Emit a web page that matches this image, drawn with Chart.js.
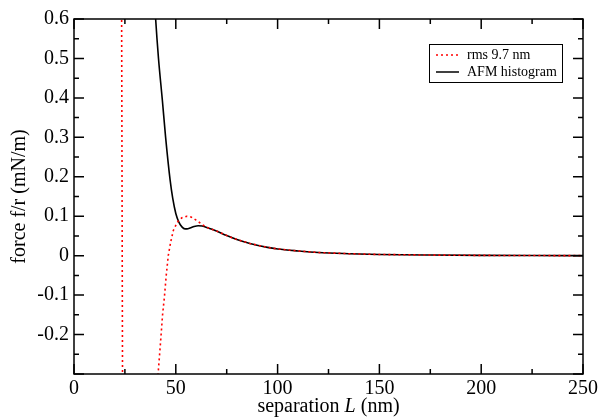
<!DOCTYPE html>
<html>
<head>
<meta charset="utf-8">
<script src="https://cdn.jsdelivr.net/npm/chart.js@4.4.1/dist/chart.umd.min.js"></script>
<style>
    html, body { margin: 0; padding: 0; background: #fff; }
    #wrap { width: 598px; height: 417px; }
</style>
</head>
<body>
<div id="wrap"><canvas id="forceChart" width="598" height="417"></canvas></div>
<script>
// separation L (nm) and force f/r (mN/m)
const afmSeparation = [38.5, 40.1, 41.5, 43.4, 45, 47.2, 48.5, 50, 51.5, 53, 54.5, 55.5, 57, 59, 61, 63, 66, 69.3, 75, 80, 86.4, 95, 100, 110, 120, 135, 150, 175, 200, 225, 250];
const afmForce = [0.75, 0.6, 0.5, 0.394, 0.3, 0.192, 0.145, 0.107, 0.085, 0.073, 0.068, 0.068, 0.07, 0.074, 0.076, 0.075, 0.07, 0.064, 0.051, 0.041, 0.031, 0.021, 0.017, 0.012, 0.008, 0.005, 0.003, 0.0015, 0.0007, 0.0003, 0.0001];

const rmsSeparation = [23.3, 23.9, 40.3, 41.3, 42.5, 43.5, 44.4, 45.3, 46.3, 47.5, 48.8, 50, 51.2, 53, 55.3, 57.5, 60, 63.5, 66, 69.3, 75, 80, 86.4, 95, 100, 110, 120, 135, 150, 175, 200, 225, 250];
const rmsForce = [0.8, -0.45, -0.4, -0.3, -0.22, -0.15, -0.105, -0.05, 0, 0.035, 0.064, 0.077, 0.088, 0.096, 0.1, 0.098, 0.09, 0.077, 0.07, 0.064, 0.051, 0.041, 0.031, 0.021, 0.017, 0.012, 0.008, 0.005, 0.003, 0.0015, 0.0007, 0.0003, 0.0001];

const xTicks = [0, 50, 100, 150, 200, 250];
const yTickLabels = ['-0.2', '-0.1', '0', '0.1', '0.2', '0.3', '0.4', '0.5', '0.6'];
const seriesNames = ['rms 9.7 nm', 'AFM histogram'];

const serif = "'Liberation Serif', 'DejaVu Serif', serif";

function toPoints(xs, ys) {
    return xs.map(function (x, i) { return { x: x, y: ys[i] }; });
}

// frame, inward ticks on all four sides, legend box, x title with italic L
const framePlugin = {
    id: 'frame',
    afterDraw: function (chart) {
        const ctx = chart.ctx;
        const a = chart.chartArea;
        const xs = chart.scales.x;
        const ys = chart.scales.y;
        ctx.save();
        ctx.strokeStyle = '#000';
        ctx.lineWidth = 1.5;
        ctx.strokeRect(a.left, a.top, a.right - a.left, a.bottom - a.top);

        for (let v = 0; v <= 250; v += 25) {
            const px = xs.getPixelForValue(v);
            const len = v % 50 === 0 ? 10 : 5;
            ctx.beginPath();
            ctx.moveTo(px, a.bottom); ctx.lineTo(px, a.bottom - len);
            ctx.moveTo(px, a.top); ctx.lineTo(px, a.top + len);
            ctx.stroke();
        }
        for (let i = -6; i <= 12; i++) {
            const v = i * 0.05;
            const py = ys.getPixelForValue(v);
            const len = i % 2 === 0 ? 10 : 5;
            ctx.beginPath();
            ctx.moveTo(a.left, py); ctx.lineTo(a.left + len, py);
            ctx.moveTo(a.right, py); ctx.lineTo(a.right - len, py);
            ctx.stroke();
        }

        // legend
        const bx = a.right - 154, by = a.top + 25, bw = 133, bh = 38;
        ctx.lineWidth = 1;
        ctx.strokeRect(bx + 0.5, by + 0.5, bw, bh);
        ctx.font = '14px ' + serif;
        ctx.fillStyle = '#000';
        ctx.textBaseline = 'middle';
        ctx.textAlign = 'left';
        ctx.strokeStyle = '#ff0000';
        ctx.lineWidth = 1.5;
        ctx.setLineDash([2, 3]);
        ctx.beginPath();
        ctx.moveTo(bx + 7, by + 11); ctx.lineTo(bx + 30, by + 11);
        ctx.stroke();
        ctx.setLineDash([]);
        ctx.strokeStyle = '#000';
        ctx.beginPath();
        ctx.moveTo(bx + 7, by + 28); ctx.lineTo(bx + 30, by + 28);
        ctx.stroke();
        ctx.fillText(seriesNames[0], bx + 38, by + 11);
        ctx.fillText(seriesNames[1], bx + 38, by + 28);

        // x axis title
        const f = '20px ' + serif;
        const fi = 'italic 20px ' + serif;
        const parts = [['separation ', f], ['L', fi], [' (nm)', f]];
        let total = 0;
        parts.forEach(function (p) { ctx.font = p[1]; total += ctx.measureText(p[0]).width; });
        let cx = (a.left + a.right) / 2 - total / 2;
        ctx.textBaseline = 'alphabetic';
        parts.forEach(function (p) {
            ctx.font = p[1];
            ctx.fillText(p[0], cx, 412);
            cx += ctx.measureText(p[0]).width;
        });
        ctx.restore();
    }
};

const config = {
    type: 'line',
    data: {
        datasets: [{
            label: seriesNames[0],
            data: toPoints(rmsSeparation, rmsForce),
            borderColor: '#ff0000',
            borderWidth: 1.6,
            borderDash: [2, 3],
            pointRadius: 0,
            tension: 0,
            fill: false
        }, {
            label: seriesNames[1],
            data: toPoints(afmSeparation, afmForce),
            borderColor: '#000000',
            borderWidth: 1.6,
            pointRadius: 0,
            cubicInterpolationMode: 'monotone',
            fill: false
        }]
    },
    options: {
        responsive: false,
        animation: false,
        layout: { padding: { top: 19, right: 15, left: 0, bottom: 0 } },
        scales: {
            x: {
                type: 'linear',
                min: 0,
                max: 250,
                afterBuildTicks: function (scale) {
                    scale.ticks = xTicks.map(function (v) { return { value: v }; });
                },
                afterFit: function (scale) {
                    scale.height = 43;
                    scale.paddingLeft = 0;
                    scale.paddingRight = 0;
                },
                ticks: {
                    color: '#000',
                    font: { family: serif, size: 20 },
                    padding: 3,
                    maxRotation: 0
                },
                grid: { display: false, drawTicks: false },
                border: { display: false }
            },
            y: {
                type: 'linear',
                min: -0.3,
                max: 0.6,
                afterBuildTicks: function (scale) {
                    scale.ticks = yTickLabels.map(function (s) { return { value: parseFloat(s) }; });
                },
                afterFit: function (scale) {
                    scale.width = 74;
                    scale.paddingTop = 0;
                    scale.paddingBottom = 0;
                },
                ticks: {
                    color: '#000',
                    font: { family: serif, size: 20 },
                    padding: 5,
                    callback: function (value) {
                        const s = yTickLabels.find(function (t) { return Math.abs(parseFloat(t) - value) < 1e-6; });
                        return s === undefined ? '' : s;
                    }
                },
                title: {
                    display: true,
                    text: 'force f/r (mN/m)',
                    color: '#000',
                    font: { family: serif, size: 20 },
                    padding: { top: 8, bottom: 0 }
                },
                grid: { display: false, drawTicks: false },
                border: { display: false }
            }
        },
        plugins: {
            legend: { display: false },
            tooltip: { enabled: false }
        }
    },
    plugins: [framePlugin]
};

new Chart(document.getElementById('forceChart'), config);
</script>
</body>
</html>
